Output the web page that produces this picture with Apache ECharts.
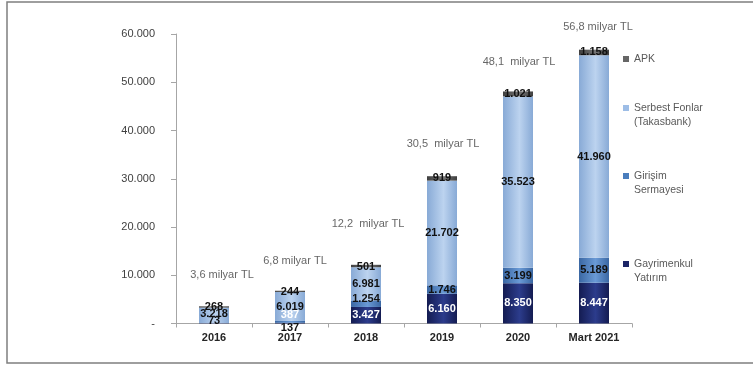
<!DOCTYPE html>
<html>
<head>
<meta charset="utf-8">
<script src="https://cdn.jsdelivr.net/npm/echarts@6/dist/echarts.min.js"></script>
<style>
  html, body { margin: 0; padding: 0; background: #fff; }
  #chart { width: 753px; height: 365px; }
</style>
</head>
<body>
<div id="chart"></div>
<script>
// Fund sizes (million TL), stacked bottom to top
const categories = ['2016', '2017', '2018', '2019', '2020', 'Mart 2021'];
const gayrimenkul = [73, 137, 3427, 6160, 8350, 8447];
const girisim = [null, 387, 1254, 1746, 3199, 5189];
const serbest = [3218, 6019, 6981, 21702, 35523, 41960];
const apk = [268, 244, 501, 919, 1021, 1158];
const totalTexts = ['3,6 milyar TL', '6,8 milyar TL', '12,2  milyar TL', '30,5  milyar TL', '48,1  milyar TL', '56,8 milyar TL'];
const yTicks = [0, 10000, 20000, 30000, 40000, 50000, 60000];

const FONT = '"Liberation Sans", Arial, sans-serif';
const fmt = v => v === 0 ? '-' : String(v).replace(/\B(?=(\d{3})+(?!\d))/g, '.');

// Label nudges [dx, dy] and colour tweaks for crowded short segments
const nudge = {
  gayrimenkul: [[0, -2], [0, 5], [0, 0], [0, 0], [0, 0], [0, 0]],
  girisim: [[0, 0], [0, -7], [0, -5], [0, 0], [0, 0], [0, 0]],
  serbest: [[0, -1], [0, 1], [0, 0], [0, 0], [0, 0], [0, 0]],
  apk: [[0, 0], [0, 1], [0, 1], [0, 0], [0, 0], [0, 0]]
};
const labelColor = {
  gayrimenkul: ['#111', '#111', '#fff', '#fff', '#fff', '#fff'],
  girisim: ['#111', '#fff', '#111', '#111', '#111', '#111'],
  serbest: ['#111', '#111', '#111', '#111', '#111', '#111'],
  apk: ['#111', '#111', '#111', '#111', '#111', '#111']
};
const totalNudge = [[8, -31], [5, -30], [2, -41], [1, -32], [1, -29], [4, -23]];

function grad(edge, mid) {
  return new echarts.graphic.LinearGradient(0, 0, 1, 0, [
    { offset: 0, color: edge },
    { offset: 0.55, color: mid },
    { offset: 1, color: edge }
  ]);
}

function items(key, values) {
  return values.map((v, i) => ({
    value: v,
    label: { offset: nudge[key][i], color: labelColor[key][i] }
  }));
}

function barSeries(name, key, values, edge, mid) {
  return {
    name: name,
    type: 'bar',
    stack: 'total',
    barWidth: 30,
    data: items(key, values),
    itemStyle: { color: grad(edge, mid) },
    label: {
      show: true,
      position: 'inside',
      fontFamily: FONT,
      fontSize: 11,
      fontWeight: 'bold',
      formatter: p => p.value == null ? '' : fmt(p.value)
    },
    emphasis: { disabled: true }
  };
}

const totals = categories.map((c, i) =>
  (gayrimenkul[i] || 0) + (girisim[i] || 0) + (serbest[i] || 0) + (apk[i] || 0));

// Two-line legend entries get a blank lead line so the marker sits on the first line
const legendNames = {
  'APK': 'APK',
  'Serbest Fonlar (Takasbank)': ' \nSerbest Fonlar\n(Takasbank)',
  'Girişim Sermayesi': ' \nGirişim\nSermayesi',
  'Gayrimenkul Yatırım': ' \nGayrimenkul\nYatırım'
};
function legendFor(name, color, top) {
  return {
    data: [{ name: name, itemStyle: { color: color } }],
    orient: 'vertical',
    left: 623,
    top: top,
    padding: 0,
    icon: 'rect',
    itemWidth: 6,
    itemHeight: 6,
    selectedMode: false,
    formatter: n => legendNames[n],
    textStyle: {
      fontFamily: FONT,
      fontSize: 10.5,
      color: '#595959',
      lineHeight: 14
    }
  };
}

const chart = echarts.init(document.getElementById('chart'), null, { renderer: 'canvas' });
chart.setOption({
  animation: false,
  backgroundColor: '#fff',
  grid: { left: 176, right: 121, top: 34, bottom: 41.5 },
  graphic: [{
    type: 'rect',
    shape: { x: 7, y: 2, width: 760, height: 361 },
    style: { fill: 'none', stroke: '#7f7f7f', lineWidth: 1.5 },
    silent: true
  }],
  legend: [
    legendFor('APK', '#666666', 52),
    legendFor('Serbest Fonlar (Takasbank)', '#9dbde6', 87),
    legendFor('Girişim Sermayesi', '#4a7dbd', 155),
    legendFor('Gayrimenkul Yatırım', '#1c2566', 243)
  ],
  xAxis: {
    type: 'category',
    data: categories,
    axisLine: { lineStyle: { color: '#a6a6a6', width: 1 } },
    axisTick: { show: true, length: 4, lineStyle: { color: '#a6a6a6' } },
    axisLabel: {
      margin: 9,
      fontFamily: FONT,
      fontSize: 11,
      fontWeight: 'bold',
      color: '#262626'
    }
  },
  yAxis: {
    type: 'value',
    min: yTicks[0],
    max: yTicks[yTicks.length - 1],
    interval: yTicks[1] - yTicks[0],
    splitLine: { show: false },
    axisLine: { show: true, lineStyle: { color: '#a6a6a6', width: 1 } },
    axisTick: { show: true, length: 5, lineStyle: { color: '#a6a6a6' } },
    axisLabel: {
      margin: 21,
      fontFamily: FONT,
      fontSize: 11,
      color: '#404040',
      formatter: v => fmt(v)
    }
  },
  series: [
    barSeries('Gayrimenkul Yatırım', 'gayrimenkul', gayrimenkul, '#141c52', '#2c3c8c'),
    barSeries('Girişim Sermayesi', 'girisim', girisim, '#3a67a3', '#6a9ad6'),
    barSeries('Serbest Fonlar (Takasbank)', 'serbest', serbest, '#88aad6', '#bcd3ef'),
    barSeries('APK', 'apk', apk, '#3f3f3f', '#757575'),
    {
      name: 'Toplam',
      type: 'scatter',
      symbolSize: 0,
      silent: true,
      data: totals.map((t, i) => ({
        value: t,
        label: { offset: totalNudge[i], formatter: totalTexts[i] }
      })),
      label: {
        show: true,
        position: 'inside',
        fontFamily: FONT,
        fontSize: 11,
        color: '#404040'
      }
    }
  ]
});
</script>
</body>
</html>
